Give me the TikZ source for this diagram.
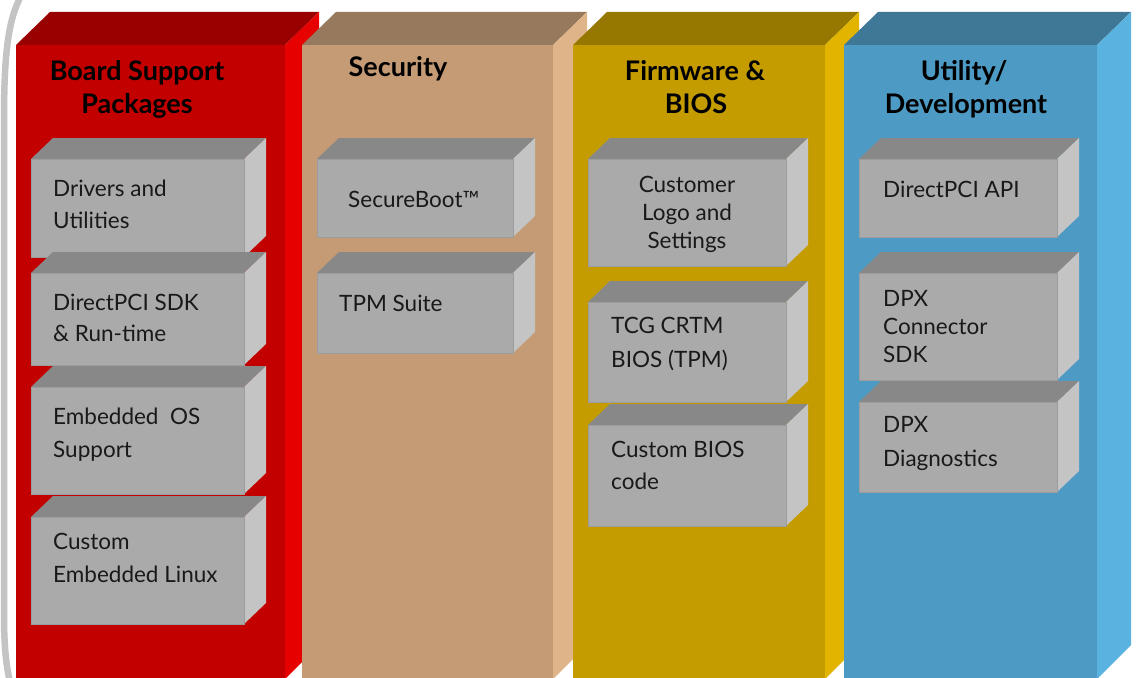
\documentclass[tikz,border=0pt]{standalone}
\usepackage{fontspec}
\setmainfont{Lato}
\definecolor{redF}{HTML}{C20000}\definecolor{redT}{HTML}{990000}\definecolor{redS}{HTML}{E60000}
\definecolor{tanF}{HTML}{C49B74}\definecolor{tanT}{HTML}{977A5D}\definecolor{tanS}{HTML}{E0B489}
\definecolor{goldF}{HTML}{C49C00}\definecolor{goldT}{HTML}{967800}\definecolor{goldS}{HTML}{E2B400}
\definecolor{bluF}{HTML}{4D9BC4}\definecolor{bluT}{HTML}{3F7896}\definecolor{bluS}{HTML}{5AB2E0}
\definecolor{gF}{HTML}{AAAAAA}\definecolor{gT}{HTML}{888888}\definecolor{gS}{HTML}{C4C4C4}\definecolor{gE}{HTML}{9C9C9C}
\definecolor{arcC}{HTML}{C4C4C4}
\tikzset{
  ttl/.style={font=\fontsize{27}{30}\selectfont\bfseries, text=black, inner sep=0pt, anchor=base},
  txt/.style={font=\fontsize{22.5}{26}\selectfont, text=black!90, inner sep=0pt, anchor=base west},
  txtc/.style={font=\fontsize{22.5}{26}\selectfont, text=black!90, inner sep=0pt, anchor=base},
  gfront/.style={fill=gF, draw=gE, line width=1pt, inner sep=0pt, anchor=north west},
}
% column: name, x1, x2, front, top, side
\newcommand\colbox[6]{%
  \pgfmathsetmacro\cw{#3-#2}%
  \fill[#5] (#2,45) -- (#2+34,12) -- (#3+34,12) -- (#3,45) -- cycle;
  \fill[#6] (#3,45) -- (#3+34,12) -- (#3+34,645) -- (#3,679) -- cycle;
  \node[fill=#4, inner sep=0pt, anchor=north west, minimum width=\cw pt, minimum height=640pt] (#1) at (#2,45) {};
}
% gray box: name, x1, ytop, x2, ybottom
\newcommand\gbox[5]{%
  \pgfmathsetmacro\bw{#4-#2}\pgfmathsetmacro\bh{#5-#3}%
  \fill[gT] (#2,#3) -- (#2+22,#3-21) -- (#4+22,#3-21) -- (#4,#3) -- cycle;
  \fill[gS] (#4,#3) -- (#4+22,#3-21) -- (#4+22,#5-21) -- (#4,#5) -- cycle;
  \node[gfront, minimum width=\bw pt, minimum height=\bh pt] (#1) at (#2,#3) {};
}
\begin{document}
\begin{tikzpicture}[x=1pt,y=-1pt]
\useasboundingbox[fill=white] (0,0) rectangle (1139,677);
% gray rounded frame edge
\draw[arcC, line width=6.5pt] (21,-4) .. controls (8,20) and (4,55) .. (4,120) -- (4,615) .. controls (4,645) and (6,665) .. (10,682);
% columns
\colbox{bsp}{16}{285}{redF}{redT}{redS}
\colbox{sec}{302}{553}{tanF}{tanT}{tanS}
\colbox{fw}{573}{825}{goldF}{goldT}{goldS}
\colbox{util}{844}{1097}{bluF}{bluT}{bluS}
% titles
\node[ttl] (t1a) at (137,80) {Board Support};
\node[ttl] (t1b) at (137,113) {Packages};
\node[ttl] (t2) at (398,77) {Security};
\node[ttl] (t3a) at (695,80) {Firmware \&};
\node[ttl] (t3b) at (696,113) {BIOS};
\node[ttl] (t4a) at (964,80) {Utility/};
\node[ttl] (t4b) at (966,113) {Development};
% column 1 boxes
\gbox{b11}{31}{159}{244}{257}
\gbox{b12}{31}{273}{244}{365}
\gbox{b13}{31}{387}{244}{494}
\gbox{b14}{31}{517}{244}{624}
\node[txt] (b11a) at (53,196) {Drivers and};
\node[txt] (b11b) at (53,228) {Utilities};
\node[txt] (b12a) at (53,310) {DirectPCI SDK};
\node[txt] (b12b) at (53,341) {\& Run-time};
\node[txt] (b13a) at (53,424) {Embedded\ \ OS};
\node[txt] (b13b) at (53,457) {Support};
\node[txt] (b14a) at (53,549) {Custom};
\node[txt] (b14b) at (53,582) {Embedded Linux};
% column 2 boxes
\gbox{b21}{317}{159}{513}{237}
\gbox{b22}{317}{273}{513}{353}
\node[txt] (b21a) at (348,207) {SecureBoot™};
\node[txt] (b22a) at (339,311) {TPM Suite};
% column 3 boxes
\gbox{b31}{588}{159}{786}{266}
\gbox{b32}{588}{302}{786}{402}
\gbox{b33}{588}{425}{786}{526}
\node[txtc] (b31a) at (687,192) {Customer};
\node[txtc] (b31b) at (687,220) {Logo and};
\node[txtc] (b31c) at (687,248) {Settings};
\node[txt] (b32a) at (611,333) {TCG CRTM};
\node[txt] (b32b) at (611,367) {BIOS (TPM)};
\node[txt] (b33a) at (611,457) {Custom BIOS};
\node[txt] (b33b) at (611,489) {code};
% column 4 boxes
\gbox{b41}{859}{159}{1057}{237}
\gbox{b42}{859}{273}{1057}{380}
\gbox{b43}{859}{402}{1057}{492}
\node[txt] (b41a) at (883,197) {DirectPCI API};
\node[txt] (b42a) at (883,306) {DPX};
\node[txt] (b42b) at (883,334) {Connector};
\node[txt] (b42c) at (883,362) {SDK};
\node[txt] (b43a) at (883,432) {DPX};
\node[txt] (b43b) at (883,466) {Diagnostics};
\end{tikzpicture}
\end{document}
